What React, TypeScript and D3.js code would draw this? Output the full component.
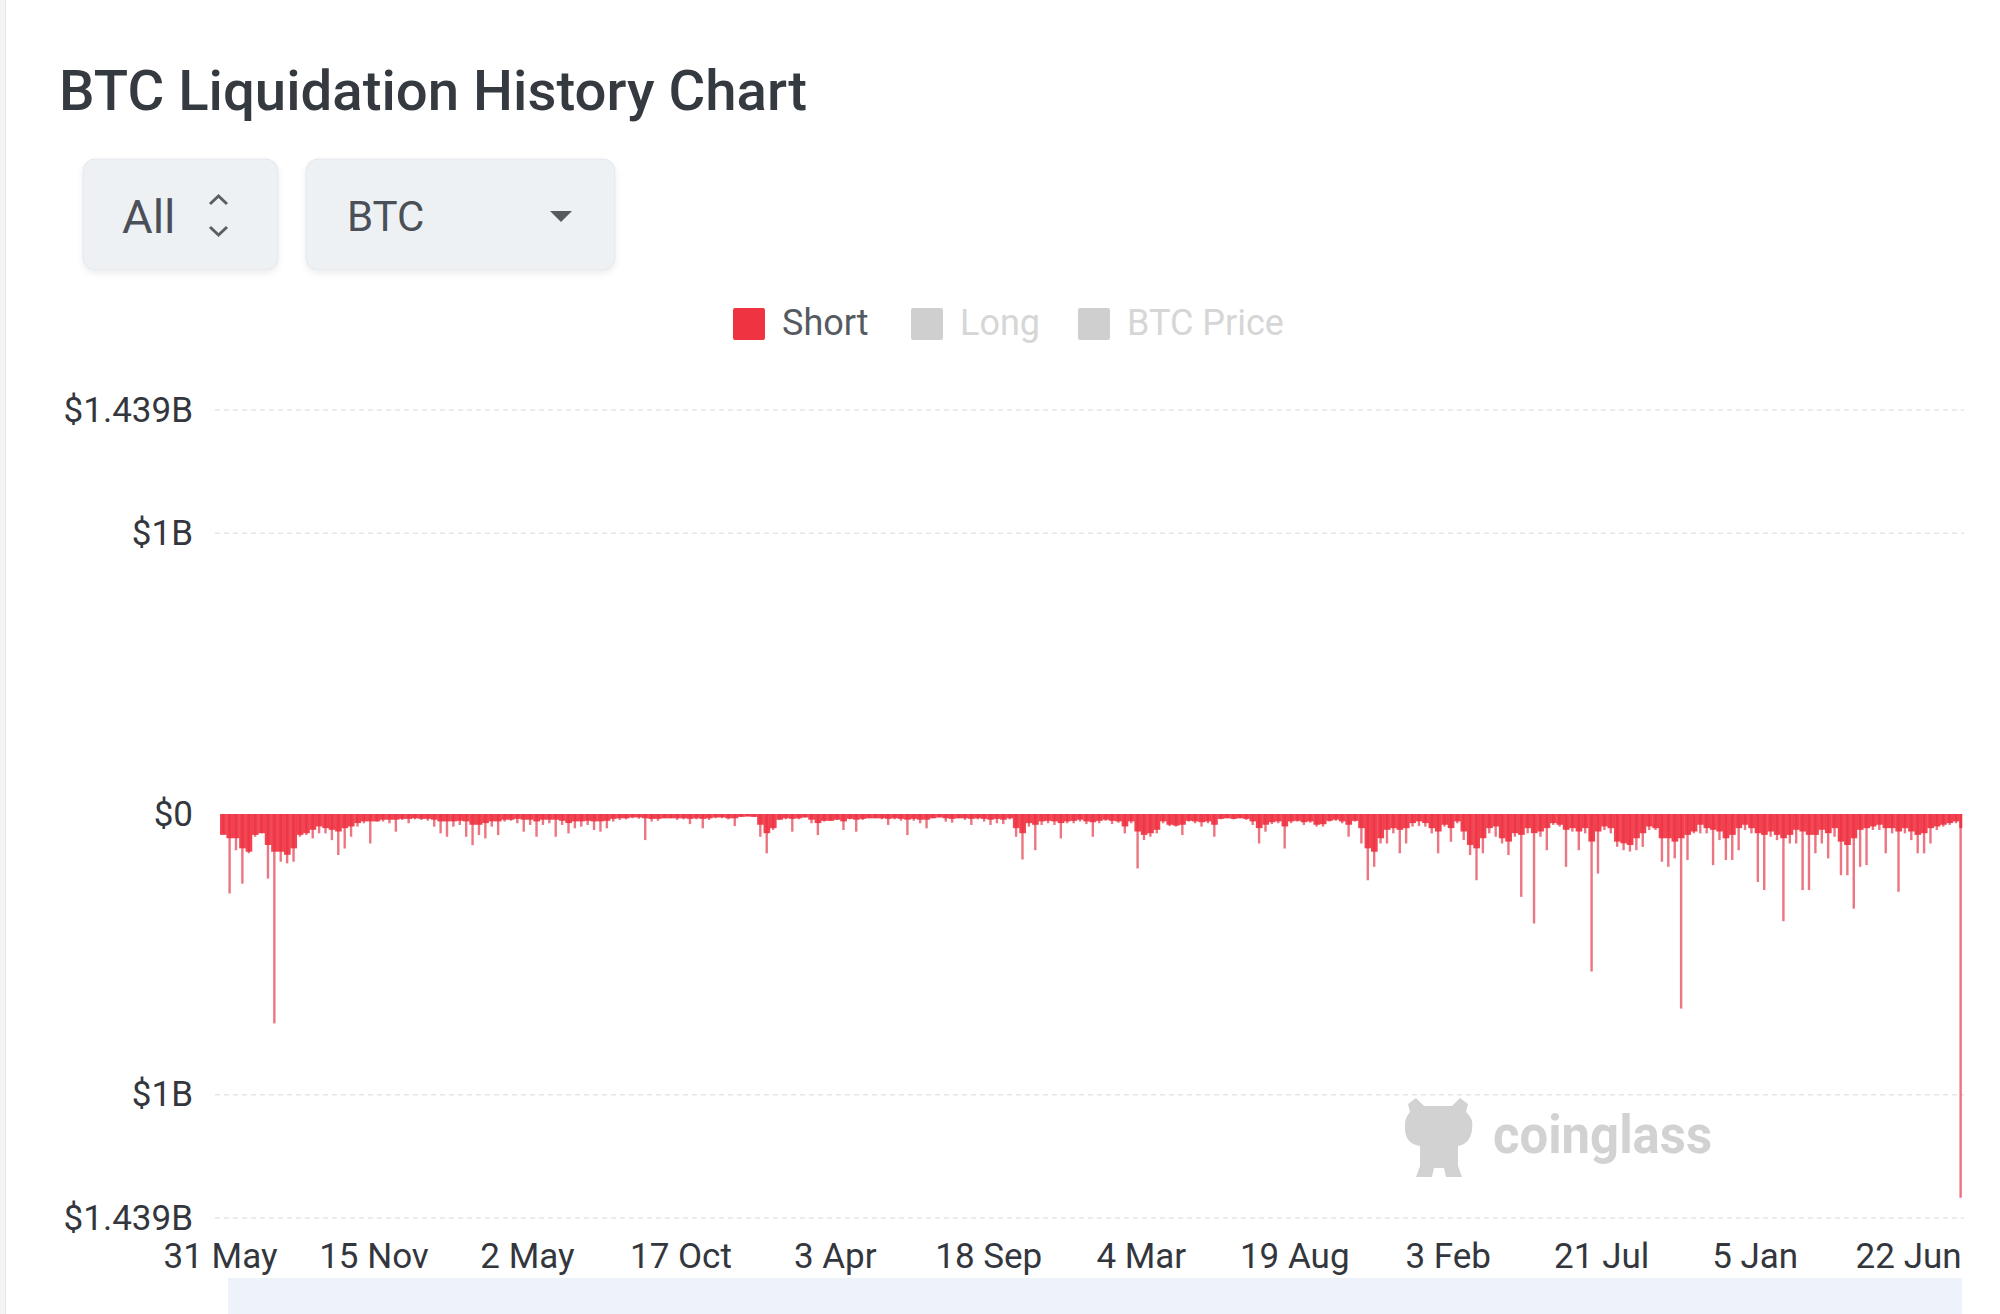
import { useEffect, useRef } from "react"
import * as d3 from "d3"

// weekly buckets of short liquidations, in $M, starting on weekStart
const weekStart = "2018-05-31"
const axisEnd = "2023-08-20"

// typical daily short liquidation within each week ($M)
const shortTypical = [
  69, 81, 81, 117, 129, 69, 63, 105, 129, 129,
  140, 117, 69, 63, 51, 39, 45, 51, 57, 45,
  39, 27, 21, 21, 21, 15, 15, 15, 12, 12,
  10, 12, 12, 15, 21, 21, 21, 19, 21, 33,
  33, 27, 21, 21, 15, 15, 12, 15, 15, 21,
  15, 15, 15, 19, 27, 21, 21, 19, 21, 21,
  19, 12, 10, 10, 7, 7, 10, 12, 12,
  10, 10, 10, 10, 12, 10, 12, 10, 7, 7,
  10, 10, 5, 4, 5, 33, 63, 45, 15, 10,
  12, 10, 7, 15, 27, 19, 19, 15, 21, 12,
  15, 12, 10, 10, 10, 12, 10, 12, 15, 12,
  15, 15, 10, 7, 10, 12, 10, 10, 12, 10,
  12, 15, 12, 15, 10, 45, 63, 27, 33, 21,
  19, 21, 27, 21, 19, 15, 21, 24, 19,
  15, 19, 21, 39, 21, 57, 69, 63, 51, 21,
  33, 36, 33, 19, 21, 24, 21, 33, 12, 10,
  12, 10, 12, 21, 45, 33, 24, 21, 39, 21,
  19, 24, 21, 33, 31, 19, 15, 21, 33, 19,
  45, 117, 129, 81, 51, 45, 51, 45, 27, 21,
  27, 45, 57, 33, 45, 21, 57, 105, 117, 81,
  45, 39, 81, 93, 63, 69, 45, 63,
  57, 45, 27, 33, 51, 45, 57, 45, 93, 57,
  39, 45, 93, 99, 105, 81, 63, 39, 45, 81,
  81, 93, 81, 69, 57, 33, 45, 51, 57, 81,
  69, 45, 33, 45, 63, 69, 57, 69, 81, 69,
  51, 57, 69, 69, 51, 63, 45, 93, 105, 81,
  51, 45, 39, 33, 45, 45, 57, 45, 57, 69,
  63, 45, 39, 33, 27, 21, 45,
]

// biggest single-day short liquidation within each week ($M)
const shortPeak = [
  69, 283, 129, 248, 140, 81, 69, 230, 746, 170,
  176, 170, 81, 75, 87, 69, 69, 93, 146, 123,
  81, 45, 33, 105, 27, 27, 33, 63, 21, 33,
  19, 21, 24, 45, 69, 81, 45, 39, 81, 111,
  75, 87, 45, 75, 27, 24, 33, 63, 39, 81,
  39, 33, 81, 39, 69, 51, 45, 39, 57, 63,
  51, 27, 21, 19, 15, 17, 93, 27, 24,
  15, 15, 21, 19, 36, 19, 51, 21, 15, 15,
  19, 43, 10, 7, 10, 81, 140, 57, 21, 19,
  63, 19, 12, 33, 75, 27, 24, 21, 57, 19,
  63, 21, 15, 15, 19, 39, 19, 24, 75, 24,
  33, 51, 15, 12, 27, 31, 15, 21, 39, 19,
  27, 39, 33, 36, 19, 81, 162, 45, 129, 39,
  33, 39, 87, 33, 33, 27, 36, 81, 33,
  24, 36, 31, 69, 33, 194, 93, 81, 69, 33,
  43, 45, 75, 27, 33, 45, 33, 81, 19, 15,
  19, 15, 21, 39, 105, 63, 36, 33, 123, 33,
  27, 39, 31, 45, 45, 27, 24, 33, 81, 27,
  105, 236, 188, 105, 105, 69, 140, 105, 45, 43,
  45, 69, 140, 45, 99, 33, 93, 146, 236, 140,
  69, 81, 105, 146, 81, 295, 69, 390,
  81, 129, 39, 45, 188, 63, 129, 69, 561, 212,
  57, 69, 117, 129, 134, 129, 117, 57, 57, 170,
  188, 158, 693, 164, 69, 69, 69, 182, 93, 164,
  164, 129, 57, 69, 242, 271, 81, 93, 382, 105,
  105, 271, 271, 140, 105, 158, 81, 218, 218, 337,
  188, 182, 57, 57, 140, 69, 277, 69, 93, 140,
  140, 105, 57, 45, 39, 33, 1367,
]

const xTickDates = [
  "2018-05-31", "2018-11-15", "2019-05-02", "2019-10-17", "2020-04-03", "2020-09-18",
  "2021-03-04", "2021-08-19", "2022-02-03", "2022-07-21", "2023-01-05", "2023-06-22",
]
const xTickLabels = [
  "31 May", "15 Nov", "2 May", "17 Oct", "3 Apr", "18 Sep",
  "4 Mar", "19 Aug", "3 Feb", "21 Jul", "5 Jan", "22 Jun",
]
const yTicks = [-1439, -1000, 0, 1000, 1439]

const legendItems = [
  { name: "Short", color: "#ef3340", text: "#555a61" },
  { name: "Long", color: "#cfcfcf", text: "#d6d6d6" },
  { name: "BTC Price", color: "#cfcfcf", text: "#d6d6d6" },
]

const FONT = "Roboto, 'Noto Sans', sans-serif"

export default function App() {
  const svgRef = useRef<SVGSVGElement>(null)

  useEffect(() => {
    if (!svgRef.current) return
    const svg = d3.select(svgRef.current)
    svg.selectAll("*").remove()

    const W = 2000
    const H = 1314
    const plot = { left: 220, right: 1962, top: 410, bottom: 1218 }

    const parse = d3.utcParse("%Y-%m-%d")
    const start = parse(weekStart) as Date
    const end = parse(axisEnd) as Date

    const x = d3.scaleUtc().domain([start, end]).range([plot.left, plot.right])
    const y = d3.scaleLinear().domain([-1439, 1439]).range([plot.bottom, plot.top])

    const defs = svg.append("defs")
    const shadow = defs.append("filter").attr("id", "btnShadow").attr("x", "-10%").attr("y", "-10%").attr("width", "120%").attr("height", "130%")
    shadow.append("feDropShadow").attr("dx", 0).attr("dy", 3).attr("stdDeviation", 3).attr("flood-color", "#000").attr("flood-opacity", 0.07)

    // page + card
    svg.append("rect").attr("width", W).attr("height", H).attr("fill", "#f3f4f5")
    svg.append("rect").attr("x", 5.5).attr("y", -20).attr("width", W + 20).attr("height", H + 40).attr("rx", 14)
      .attr("fill", "#fff").attr("stroke", "#e6e7e9")

    // title
    svg.append("text").attr("x", 59).attr("y", 110).attr("font-family", FONT).attr("font-size", 56)
      .attr("font-weight", 500).attr("fill", "#353a41").attr("textLength", 748).attr("lengthAdjust", "spacingAndGlyphs")
      .text("BTC Liquidation History Chart")

    // selectors
    const btns = svg.append("g")
    btns.append("rect").attr("x", 83).attr("y", 159).attr("width", 195).attr("height", 111).attr("rx", 12)
      .attr("fill", "#eef1f4").attr("stroke", "#e3e7eb").attr("filter", "url(#btnShadow)")
    btns.append("rect").attr("x", 306).attr("y", 159).attr("width", 309).attr("height", 111).attr("rx", 12)
      .attr("fill", "#eef1f4").attr("stroke", "#e3e7eb").attr("filter", "url(#btnShadow)")
    btns.append("text").attr("x", 122).attr("y", 233).attr("font-family", FONT).attr("font-size", 47)
      .attr("fill", "#4b5058").text("All")
    btns.append("path").attr("d", "M210,204 L218.5,196 L227,204 M210,227 L218.5,235 L227,227")
      .attr("fill", "none").attr("stroke", "#5a5f66").attr("stroke-width", 3)
    btns.append("text").attr("x", 347).attr("y", 231).attr("font-family", FONT).attr("font-size", 42)
      .attr("fill", "#4b5058").text("BTC")
    btns.append("path").attr("d", "M550,211 L572,211 L561,222 Z").attr("fill", "#555a61")

    // legend
    const legendX = [733, 911, 1078]
    const legend = svg.append("g")
    legendItems.forEach((d, i) => {
      legend.append("rect").attr("x", legendX[i]).attr("y", 308).attr("width", 32).attr("height", 32).attr("rx", 2).attr("fill", d.color)
      legend.append("text").attr("x", legendX[i] + 49).attr("y", 335).attr("font-family", FONT).attr("font-size", 36)
        .attr("fill", d.text).text(d.name)
    })

    // grid lines
    svg.append("g").selectAll("line")
      .data(yTicks.filter((t) => t !== 0))
      .enter()
      .append("line")
      .attr("x1", 215).attr("x2", plot.right + 2)
      .attr("y1", (d) => y(d)).attr("y2", (d) => y(d))
      .attr("stroke", "#e4e6e9").attr("stroke-width", 1.5).attr("stroke-dasharray", "5 4")

    // watermark
    const wm = svg.append("g").attr("fill", "#d2d2d2")
    wm.append("path").attr("d",
      "M1408,1104 L1416,1098 L1424,1106 L1452,1106 L1460,1098 L1468,1104 L1466,1112 Q1474,1118 1472,1130 Q1470,1144 1458,1146 L1458,1166 L1462,1177 L1446,1177 L1444,1168 L1434,1168 L1432,1177 L1416,1177 L1420,1166 L1420,1146 Q1406,1144 1405,1130 Q1404,1118 1410,1112 Z")
    wm.append("text").attr("x", 1493).attr("y", 1153).attr("font-family", FONT).attr("font-size", 54)
      .attr("font-weight", 700).attr("textLength", 219).attr("lengthAdjust", "spacingAndGlyphs").text("coinglass")

    // bars
    const weeks = shortTypical.map((v, i) => {
      const d0 = d3.utcDay.offset(start, i * 7)
      const d1 = d3.min([d3.utcDay.offset(d0, 7), end]) as Date
      return { d0, d1, typical: v, peak: shortPeak[i] }
    })

    const bars = svg.append("g")
    bars.selectAll(".peak")
      .data(weeks)
      .enter()
      .append("rect")
      .attr("class", "peak")
      .attr("x", (d) => (x(d.d0) + x(d.d1)) / 2 - 1.2)
      .attr("y", y(0))
      .attr("width", 2.4)
      .attr("height", (d) => y(-d.peak) - y(0))
      .attr("fill", "#e23a4b")
      .attr("opacity", 0.7)

    bars.selectAll(".typ")
      .data(weeks)
      .enter()
      .append("rect")
      .attr("class", "typ")
      .attr("x", (d) => x(d.d0))
      .attr("y", y(0))
      .attr("width", (d) => x(d.d1) - x(d.d0) + 0.3)
      .attr("height", (d) => y(-d.typical) - y(0) + 1.5)
      .attr("fill", "#f0303f")
      .attr("opacity", 0.9)

    // y axis labels (absolute values on both sides)
    const fmt = (v: number) => {
      const a = Math.abs(v)
      if (a === 0) return "$0"
      return `$${d3.format("~")(+(a / 1000).toFixed(3))}B`
    }
    const yAxis = svg.append("g").attr("transform", `translate(193,0)`)
      .call(d3.axisLeft(y).tickValues(yTicks).tickFormat((d) => fmt(d as number)).tickSize(0).tickPadding(0))
    yAxis.select(".domain").remove()
    yAxis.selectAll("text").attr("font-family", FONT).attr("font-size", 35).attr("fill", "#33373d")

    // x axis labels
    const labelOf = new Map(xTickDates.map((d, i) => [d, xTickLabels[i]]))
    const xAxis = svg.append("g").attr("transform", `translate(0,${plot.bottom})`)
      .call(d3.axisBottom(x).tickValues(xTickDates.map((d) => parse(d) as Date))
        .tickFormat((d) => labelOf.get(d3.utcFormat("%Y-%m-%d")(d as Date)) || "").tickSize(0))
    xAxis.select(".domain").remove()
    xAxis.selectAll("text").attr("y", 50).attr("dy", 0).attr("font-family", FONT).attr("font-size", 35).attr("fill", "#33373d")

    // data zoom strip
    svg.append("rect").attr("x", 228).attr("y", 1278).attr("width", plot.right - 228).attr("height", 60).attr("fill", "#edf2fb")
  }, [])

  return (
    <div style={{ position: "absolute", left: 0, top: 0 }}>
      <svg ref={svgRef} width={2000} height={1314} style={{ display: "block" }} />
    </div>
  )
}
